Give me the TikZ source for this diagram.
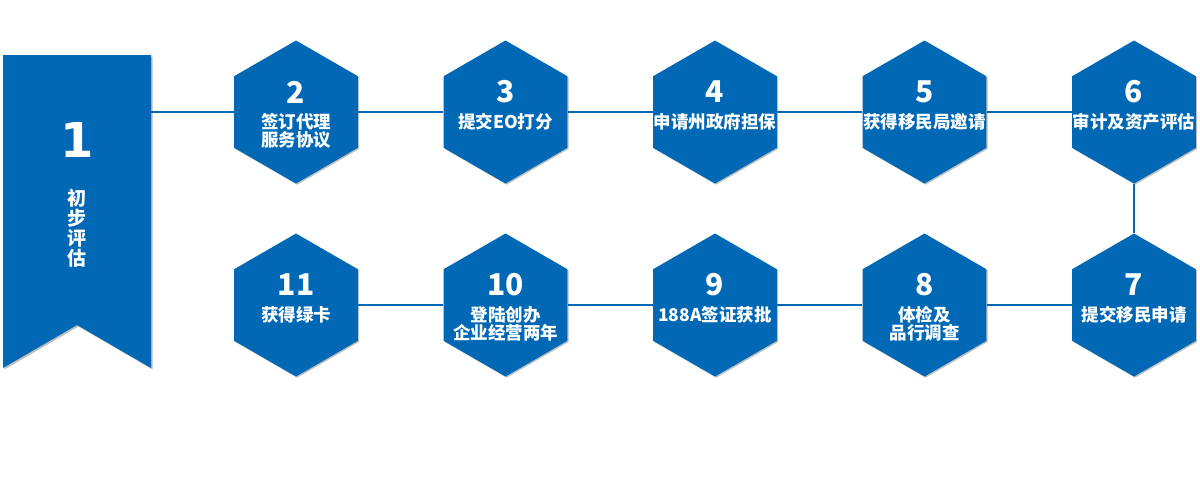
\documentclass[tikz,border=0pt]{standalone}
\usepackage{fontspec}
\newfontfamily\cjk{Noto Sans CJK SC}
\newfontfamily\dvs{DejaVu Sans}
\usetikzlibrary{shapes.geometric,shadows}
\definecolor{bl}{RGB}{0,104,180}
\begin{document}
\begin{tikzpicture}[x=1pt,y=-1pt,
  hex/.style={regular polygon, regular polygon sides=6, shape border rotate=30,
    minimum size=143pt, inner sep=0pt, fill=bl,
    drop shadow={shadow xshift=1.2pt, shadow yshift=-1.2pt, fill=black, opacity=0.25}},
  num/.style={text=white, inner sep=0pt, font=\cjk\bfseries\fontsize{30}{30}\selectfont},
  lab/.style={text=white, inner sep=0pt, anchor=north, align=center,
    font=\cjk\bfseries\fontsize{17.5}{18}\selectfont},
  conn/.style={draw=bl, line width=1.2pt}]
\useasboundingbox (0,0) rectangle (1200,480);
\fill[white] (0,0) rectangle (1200,480);
% banner
\fill[black, opacity=0.25] (4.5,56.5) -- (152.5,56.5) -- (152.5,369.5) -- (78.5,326.5) -- (4.5,369.5) -- cycle;
\fill[bl] (3,55) -- (151,55) -- (151,368) -- (77,325) -- (3,368) -- cycle;
\coordinate (b1) at (151,112);
\node[text=white, inner sep=0pt, font=\dvs\bfseries\fontsize{48}{48}\selectfont] (n1) at (77,140) {1};
\node[text=white, inner sep=0pt, align=center, font=\cjk\bfseries\fontsize{19}{20}\selectfont] (t1) at (77,228) {初\\步\\评\\估};
% hexagons
\def\ya{112}\def\yb{305}
\node[hex] (h2) at (296,\ya) {};
\node[hex] (h3) at (505.5,\ya) {};
\node[hex] (h4) at (715,\ya) {};
\node[hex] (h5) at (924.5,\ya) {};
\node[hex] (h6) at (1134,\ya) {};
\node[hex] (h11) at (296,\yb) {};
\node[hex] (h10) at (505.5,\yb) {};
\node[hex] (h9) at (715,\yb) {};
\node[hex] (h8) at (924.5,\yb) {};
\node[hex] (h7) at (1134,\yb) {};
% connectors
\draw[conn] (b1) -- (h2);
\draw[conn] (h2) -- (h3);
\draw[conn] (h3) -- (h4);
\draw[conn] (h4) -- (h5);
\draw[conn] (h5) -- (h6);
\draw[conn] (h6) -- (h7);
\draw[conn] (h7) -- (h8);
\draw[conn] (h8) -- (h9);
\draw[conn] (h9) -- (h10);
\draw[conn] (h10) -- (h11);
% texts
\node[num] (n2) at (296,\ya-20) {2};
\node[lab] (l2) at (296,\ya+1) {签订代理\\服务协议};
\node[num] (n3) at (505.5,\ya-20) {3};
\node[lab] (l3) at (505.5,\ya+1) {提交EO打分};
\node[num] (n4) at (715,\ya-20) {4};
\node[lab] (l4) at (715,\ya+1) {申请州政府担保};
\node[num] (n5) at (924.5,\ya-20) {5};
\node[lab] (l5) at (924.5,\ya+1) {获得移民局邀请};
\node[num] (n6) at (1134,\ya-20) {6};
\node[lab] (l6) at (1134,\ya+1) {审计及资产评估};
\node[num] (n11) at (296,\yb-20) {11};
\node[lab] (l11) at (296,\yb+1) {获得绿卡};
\node[num] (n10) at (505.5,\yb-20) {10};
\node[lab] (l10) at (505.5,\yb+1) {登陆创办\\企业经营两年};
\node[num] (n9) at (715,\yb-20) {9};
\node[lab] (l9) at (715,\yb+1) {188A签证获批};
\node[num] (n8) at (924.5,\yb-20) {8};
\node[lab] (l8) at (924.5,\yb+1) {体检及\\品行调查};
\node[num] (n7) at (1134,\yb-20) {7};
\node[lab] (l7) at (1134,\yb+1) {提交移民申请};
\end{tikzpicture}
\end{document}
